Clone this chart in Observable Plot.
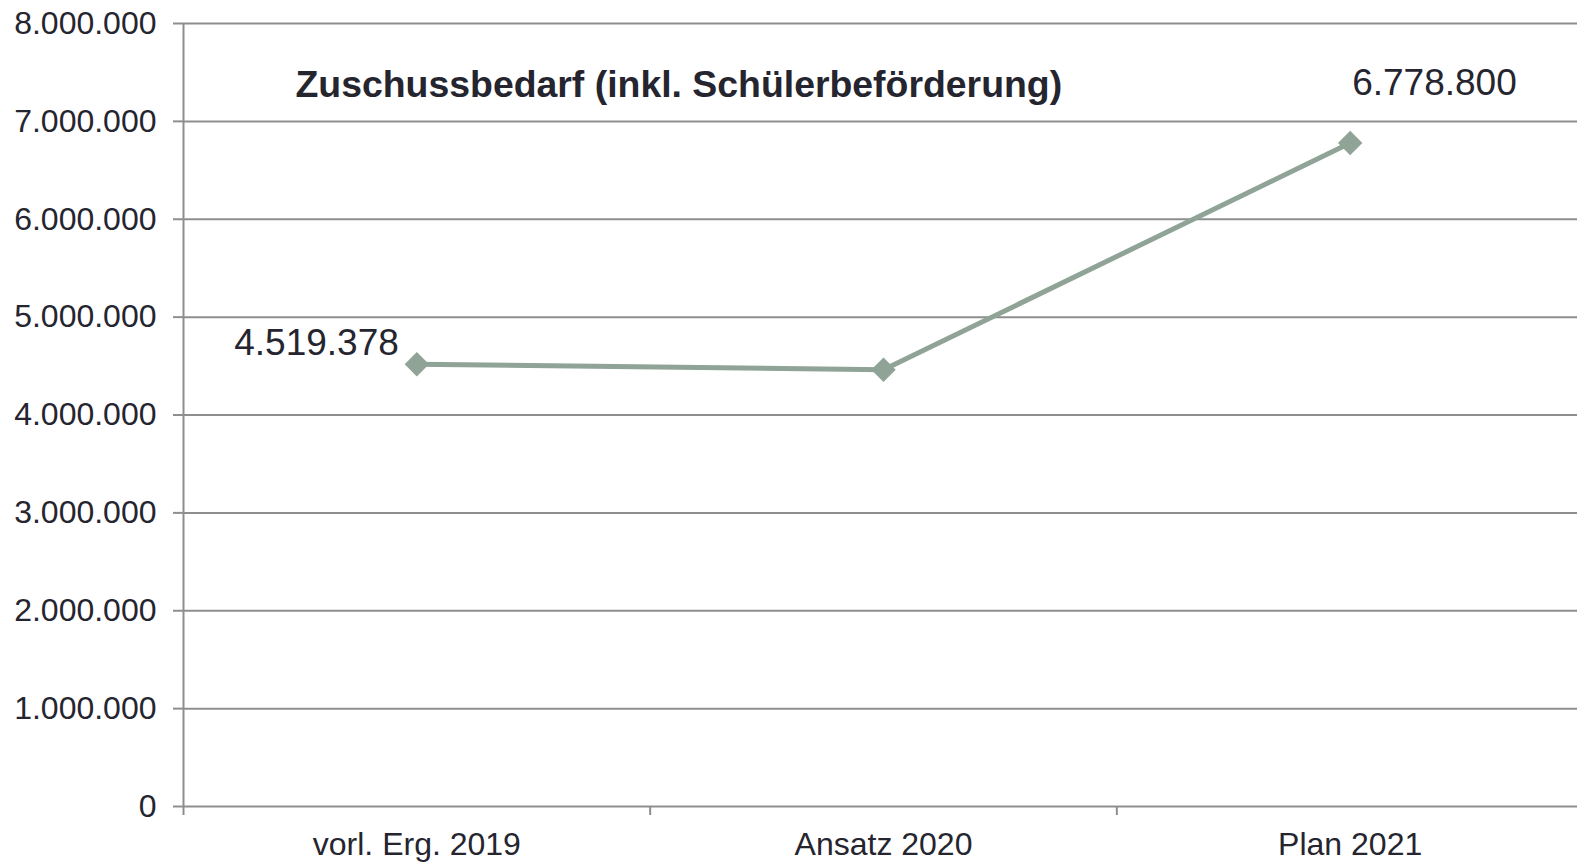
<!DOCTYPE html>
<html>
<head>
<meta charset="utf-8">
<script src="https://cdn.jsdelivr.net/npm/d3@7"></script>
<script src="https://cdn.jsdelivr.net/npm/@observablehq/plot@0.6"></script>
<style>
  html, body { margin: 0; padding: 0; background: #fff; overflow: hidden; }
  #chart svg { display: block; max-width: none !important; width: 1590px; height: 863px; }
</style>
</head>
<body>
<div id="chart"></div>
<script>
const title = "Zuschussbedarf (inkl. Schülerbeförderung)";
const categories = ["vorl. Erg. 2019", "Ansatz 2020", "Plan 2021"];
const values = [4519378, 4462000, 6778800];
const yTicks = [0, 1000000, 2000000, 3000000, 4000000, 5000000, 6000000, 7000000, 8000000];
const labelled = [0, 2]; // which points carry a data label

const de = d3.formatLocale({decimal: ",", thousands: ".", grouping: [3], currency: ["", " €"]});
const fmt = de.format(",d");

const data = categories.map((c, i) => ({cat: c, pos: i + 0.5, value: values[i]}));
const textColor = "#25252f";
const gridColor = "#8e8e8e";
const lineColor = "#8fa397";
const font = "'Liberation Sans', Arial, sans-serif";

const chart = Plot.plot({
  width: 1590,
  height: 863,
  marginLeft: 183,
  marginRight: 7,
  marginTop: 23,
  marginBottom: 57,
  style: {fontFamily: font, color: textColor, background: "#fff", overflow: "visible"},
  x: {type: "linear", domain: [0, categories.length]},
  y: {domain: [0, 8000000]},
  marks: [
    Plot.ruleY(yTicks, {stroke: gridColor, strokeWidth: 2}),
    Plot.ruleX([0], {stroke: gridColor, strokeWidth: 2}),
    Plot.axisY({ticks: yTicks, tickSize: 10, tickPadding: 17, tickFormat: fmt, fontSize: 32,
      stroke: gridColor, strokeWidth: 2, strokeOpacity: 1, fill: textColor, label: null}),
    Plot.axisX({ticks: d3.range(categories.length + 1), tickSize: 9, tickFormat: () => "",
      stroke: gridColor, strokeWidth: 2, strokeOpacity: 1, label: null}),
    Plot.axisX({ticks: data.map(d => d.pos), tickSize: 0, tickPadding: 26,
      tickFormat: p => categories[Math.round(p - 0.5)], fontSize: 32, fill: textColor, label: null}),
    Plot.line(data, {x: "pos", y: "value", stroke: lineColor, strokeWidth: 5}),
    Plot.dot(data, {x: "pos", y: "value", symbol: "diamond2", r: 11, fill: lineColor, stroke: null}),
    Plot.text([data[labelled[0]]], {x: "pos", y: "value", text: d => fmt(d.value), textAnchor: "end",
      lineAnchor: "middle", dx: -18, dy: -21, fontSize: 37, fill: textColor}),
    Plot.text([data[labelled[1]]], {x: "pos", y: "value", text: d => fmt(d.value), textAnchor: "start",
      lineAnchor: "middle", dx: 2, dy: -60, fontSize: 37, fill: textColor}),
    Plot.text([title], {frameAnchor: "top-left", lineAnchor: "top", dx: 112, dy: 47,
      fontSize: 37.4, fontWeight: "bold", fill: textColor})
  ]
});
document.getElementById("chart").append(chart);
</script>
</body>
</html>
